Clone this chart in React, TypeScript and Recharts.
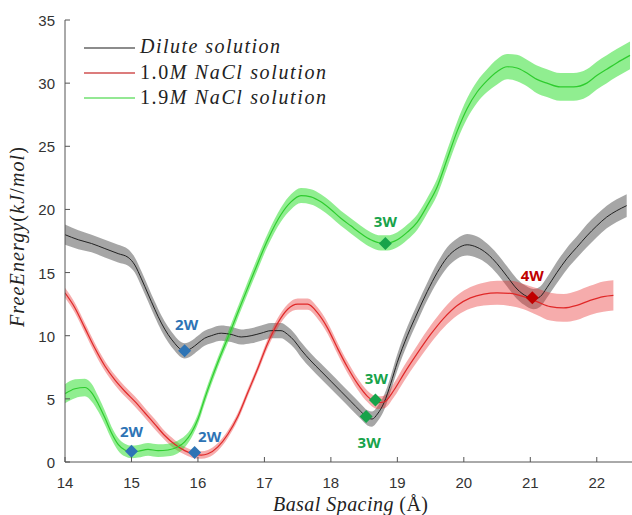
import React from "react";
import { ComposedChart, Line, Area, Scatter, XAxis, YAxis } from "recharts";

// ---------- data ----------
const xTicks = [14, 15, 16, 17, 18, 19, 20, 21, 22];
const yTicks = [0, 5, 10, 15, 20, 25, 30, 35];

const diluteX = [14.0,14.2,14.4,14.6,14.8,14.95,15.05,15.15,15.25,15.35,15.45,15.55,15.65,15.72,15.8,15.9,16.0,16.1,16.2,16.35,16.5,16.65,16.8,16.95,17.1,17.25,17.35,17.45,17.55,17.7,17.85,18.0,18.15,18.3,18.45,18.55,18.62,18.7,18.8,18.9,19.0,19.15,19.3,19.45,19.6,19.75,19.9,20.05,20.2,20.35,20.5,20.65,20.8,20.95,21.05,21.15,21.25,21.4,21.55,21.7,21.85,22.0,22.15,22.3,22.45];
const diluteY = [18.0,17.6,17.3,16.9,16.5,16.2,15.6,14.5,13.3,12.1,11.0,10.1,9.4,9.0,8.8,9.0,9.4,9.8,10.0,10.2,10.1,9.9,10.0,10.2,10.4,10.4,10.1,9.6,8.9,8.0,7.2,6.4,5.6,4.8,4.0,3.5,3.4,3.8,4.7,6.2,7.9,10.0,11.8,13.5,15.0,16.2,16.9,17.2,17.0,16.5,15.7,14.7,13.7,13.1,12.9,13.1,13.8,15.0,16.1,17.0,17.9,18.7,19.4,19.9,20.3];
const diluteErr = [0.8,0.75,0.7,0.7,0.7,0.65,0.6,0.6,0.6,0.6,0.6,0.6,0.6,0.6,0.6,0.6,0.6,0.6,0.6,0.6,0.6,0.6,0.6,0.6,0.6,0.6,0.6,0.6,0.6,0.6,0.6,0.6,0.6,0.6,0.6,0.6,0.6,0.6,0.6,0.6,0.65,0.7,0.7,0.7,0.75,0.8,0.8,0.85,0.85,0.8,0.8,0.8,0.8,0.8,0.8,0.8,0.8,0.85,0.85,0.85,0.9,0.9,0.9,0.9,0.9];

const nacl10X = [14.0,14.15,14.3,14.45,14.6,14.75,14.9,15.05,15.2,15.35,15.5,15.65,15.8,15.95,16.05,16.15,16.3,16.45,16.6,16.75,16.9,17.05,17.2,17.35,17.5,17.65,17.8,17.95,18.1,18.25,18.4,18.55,18.7,18.8,18.95,19.1,19.3,19.5,19.7,19.9,20.1,20.3,20.5,20.7,20.9,21.1,21.3,21.5,21.7,21.9,22.1,22.25];
const nacl10Y = [13.4,12.2,10.6,9.0,7.6,6.5,5.6,4.8,3.9,3.0,2.1,1.4,0.9,0.6,0.55,0.65,1.2,2.2,3.6,5.5,7.4,9.4,11.0,12.1,12.5,12.5,11.8,10.6,9.0,7.5,6.2,5.2,4.7,4.75,5.7,7.0,8.6,10.1,11.4,12.4,13.0,13.3,13.4,13.35,13.1,12.7,12.3,12.2,12.4,12.8,13.1,13.2];
const nacl10Err = [0.4,0.4,0.4,0.4,0.4,0.4,0.4,0.4,0.4,0.4,0.35,0.35,0.3,0.3,0.3,0.3,0.3,0.3,0.3,0.3,0.3,0.35,0.4,0.4,0.45,0.45,0.45,0.45,0.45,0.45,0.45,0.45,0.5,0.5,0.55,0.6,0.65,0.7,0.75,0.8,0.85,0.9,0.95,1.0,1.0,1.05,1.1,1.1,1.15,1.15,1.2,1.2];

const nacl19X = [14.0,14.15,14.3,14.4,14.5,14.6,14.7,14.8,14.9,15.0,15.1,15.25,15.4,15.55,15.7,15.8,15.9,16.0,16.1,16.2,16.3,16.4,16.5,16.65,16.85,17.05,17.25,17.4,17.55,17.7,17.85,18.0,18.15,18.3,18.45,18.6,18.75,18.85,19.0,19.15,19.3,19.45,19.6,19.75,19.9,20.05,20.2,20.35,20.5,20.65,20.8,20.95,21.1,21.25,21.45,21.65,21.85,22.0,22.15,22.3,22.5];
const nacl19Y = [5.4,5.8,5.9,5.5,4.6,3.5,2.3,1.4,0.95,0.8,0.85,1.0,0.9,0.95,1.2,1.6,2.3,3.4,5.0,6.5,7.9,9.2,10.5,12.5,15.1,17.6,19.6,20.6,21.1,21.0,20.6,20.0,19.3,18.7,18.1,17.6,17.35,17.35,17.6,18.2,19.0,20.3,21.8,24.0,26.2,28.0,29.3,30.2,30.9,31.3,31.2,30.8,30.3,30.0,29.7,29.7,30.0,30.6,31.1,31.6,32.2];
const nacl19Err = [0.75,0.75,0.7,0.7,0.6,0.55,0.5,0.5,0.5,0.5,0.5,0.5,0.5,0.5,0.5,0.45,0.4,0.4,0.4,0.4,0.4,0.4,0.45,0.45,0.5,0.5,0.55,0.6,0.6,0.6,0.6,0.6,0.6,0.6,0.6,0.6,0.6,0.6,0.6,0.6,0.6,0.6,0.65,0.7,0.75,0.8,0.85,0.9,1.0,1.0,1.05,1.05,1.1,1.1,1.1,1.1,1.1,1.1,1.1,1.1,1.1];

const markerX = [15.0, 15.95, 15.8, 18.82, 18.53, 18.67, 21.03];
const markerY = [0.85, 0.75, 8.8, 17.3, 3.6, 4.9, 13.0];
const markerLabel = ["2W", "2W", "2W", "3W", "3W", "3W", "4W"];

const seriesNames = ["Dilute solution", "1.0M NaCl solution", "1.9M NaCl solution"];

// ---------- styling / layout ----------
const W = 632;
const H = 515;
const labelColor: Record<string, string> = { "2W": "#2e74b5", "3W": "#17a34a", "4W": "#c00000" };
const labelOffset = [[0, -19], [15, -16], [2, -26], [0, -22], [3, 26], [1, -21], [0, -22]];

const build = (xs: number[], ys: number[], es: number[]) =>
  xs.map((x, i) => ({ x, y: ys[i], band: [ys[i] - es[i], ys[i] + es[i]] }));

const diluteData = build(diluteX, diluteY, diluteErr);
const nacl10Data = build(nacl10X, nacl10Y, nacl10Err);
const nacl19Data = build(nacl19X, nacl19Y, nacl19Err);
const markerData = markerX.map((x, i) => ({ x, y: markerY[i], label: markerLabel[i], idx: i }));

const tickFont = "'Liberation Sans', Arial, sans-serif";
const mathFont = "'Liberation Serif', 'Times New Roman', serif";

const XTick = (p: any) => {
  const { x, y, payload } = p;
  return (
    <g>
      <line x1={x} x2={x} y1={y} y2={y - 5} stroke="#555" strokeWidth={1} />
      <text x={x} y={y + 26} textAnchor="middle" fontSize={15} fill="#333" fontFamily={tickFont}>
        {payload.value}
      </text>
    </g>
  );
};

const YTick = (p: any) => {
  const { x, y, payload } = p;
  return (
    <g>
      <line x1={x} x2={x + 5} y1={y} y2={y} stroke="#555" strokeWidth={1} />
      <text x={x - 10} y={y + 6} textAnchor="end" fontSize={15} fill="#333" fontFamily={tickFont}>
        {payload.value}
      </text>
    </g>
  );
};

const Diamond = (p: any) => {
  const { cx, cy, payload } = p;
  const c = labelColor[payload.label];
  const [dx, dy] = labelOffset[payload.idx];
  const s = 6.5;
  return (
    <g>
      <path d={`M${cx},${cy - s} L${cx + s},${cy} L${cx},${cy + s} L${cx - s},${cy} Z`} fill={c} />
      <text
        x={cx + dx}
        y={cy + dy + 5}
        textAnchor="middle"
        fontSize={15}
        fontWeight={700}
        fill={c}
        fontFamily="'Open Sans', sans-serif"
      >
        {payload.label}
      </text>
    </g>
  );
};

export default function App() {
  return (
    <div style={{ position: "absolute", left: 0, top: 0, width: W, height: H, background: "#fff" }}>
      <ComposedChart width={W} height={H} margin={{ top: 20, right: 0, bottom: 0, left: 0 }}>
        <XAxis
          type="number"
          dataKey="x"
          domain={[14, 22.53]}
          ticks={xTicks}
          interval={0}
          allowDataOverflow
          height={53}
          tickSize={0}
          tickMargin={0}
          tickLine={false}
          axisLine={{ stroke: "#555" }}
          tick={XTick}
        />
        <YAxis
          type="number"
          domain={[0, 35]}
          ticks={yTicks}
          interval={0}
          allowDataOverflow
          width={65}
          tickSize={0}
          tickMargin={0}
          tickLine={false}
          axisLine={{ stroke: "#555" }}
          tick={YTick}
        />
        <Area data={diluteData} dataKey="band" type="monotone" stroke="none" fill="#808080" fillOpacity={0.7} isAnimationActive={false} activeDot={false} />
        <Line data={diluteData} dataKey="y" type="monotone" stroke="#222" strokeWidth={1} dot={false} activeDot={false} isAnimationActive={false} />
        <Area data={nacl10Data} dataKey="band" type="monotone" stroke="none" fill="#e83030" fillOpacity={0.4} isAnimationActive={false} activeDot={false} />
        <Line data={nacl10Data} dataKey="y" type="monotone" stroke="#e02828" strokeWidth={1.2} dot={false} activeDot={false} isAnimationActive={false} />
        <Area data={nacl19Data} dataKey="band" type="monotone" stroke="none" fill="#22dd22" fillOpacity={0.5} isAnimationActive={false} activeDot={false} />
        <Line data={nacl19Data} dataKey="y" type="monotone" stroke="#2ecc2e" strokeWidth={1.2} dot={false} activeDot={false} isAnimationActive={false} />
        <Scatter data={markerData} dataKey="y" shape={Diamond} isAnimationActive={false} />
      </ComposedChart>
      <svg width={W} height={H} style={{ position: "absolute", left: 0, top: 0, pointerEvents: "none" }}>
        {/* legend */}
        <line x1={84} x2={135} y1={48} y2={48} stroke="#666" strokeWidth={1.5} />
        <text x={140} y={53} fontSize={20} fontFamily={mathFont} fill="#222" textLength={140} lengthAdjust="spacing">
          <tspan fontStyle="italic">{seriesNames[0]}</tspan>
        </text>
        <line x1={84} x2={135} y1={73} y2={73} stroke="#d05050" strokeWidth={1.5} />
        <text x={140} y={79} fontSize={20} fontFamily={mathFont} fill="#222" textLength={186} lengthAdjust="spacing">
          <tspan>1.0</tspan>
          <tspan fontStyle="italic">M NaCl solution</tspan>
        </text>
        <line x1={84} x2={135} y1={98} y2={98} stroke="#70e070" strokeWidth={1.5} />
        <text x={140} y={104} fontSize={20} fontFamily={mathFont} fill="#222" textLength={186} lengthAdjust="spacing">
          <tspan>1.9</tspan>
          <tspan fontStyle="italic">M NaCl solution</tspan>
        </text>
        {/* x label */}
        <text x={273} y={511} fontSize={20} fontFamily={mathFont} fill="#222" textLength={155} lengthAdjust="spacing">
          <tspan fontStyle="italic">Basal Spacing </tspan>
          <tspan>(Å)</tspan>
        </text>
        {/* y label */}
        <text
          transform="translate(24,327) rotate(-90)"
          x={0}
          y={0}
          fontSize={20}
          fontFamily={mathFont}
          fill="#222"
          textLength={180}
          lengthAdjust="spacing"
        >
          <tspan fontStyle="italic">FreeEnergy</tspan>
          <tspan>(</tspan>
          <tspan fontStyle="italic">kJ</tspan>
          <tspan>/</tspan>
          <tspan fontStyle="italic">mol</tspan>
          <tspan>)</tspan>
        </text>
      </svg>
    </div>
  );
}
